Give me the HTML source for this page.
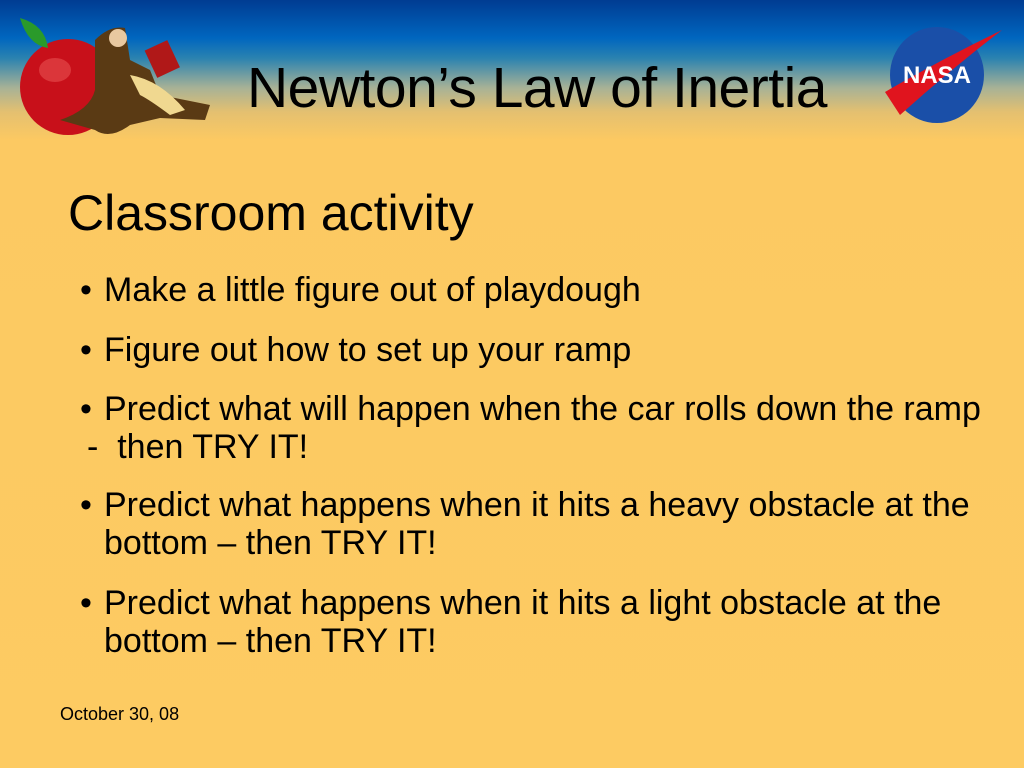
<!DOCTYPE html>
<html><head><meta charset="utf-8"><style>
body{margin:0;width:1024px;height:768px;overflow:hidden;font-family:"Liberation Sans",Arial,sans-serif;}
#slide{position:relative;width:1024px;height:768px;background:linear-gradient(180deg,#003c92 0px,#0066bf 38px,#2a82b0 58px,#a8b296 88px,#e4c070 112px,#fcc962 140px,#fdcb62 768px);}
.t{position:absolute;white-space:nowrap;color:#000;}
.b{position:absolute;left:0;}
.bt{position:absolute;left:24px;white-space:nowrap;}
</style></head><body>
<div id="slide">
<svg style="position:absolute;left:0;top:0" width="240" height="145">
<ellipse cx="68" cy="87" rx="48" ry="48" fill="#c8101a"/>
<ellipse cx="55" cy="70" rx="16" ry="12" fill="#e85050" opacity="0.6"/>
<path d="M20 18 Q45 25 48 48 Q28 45 20 18Z" fill="#2a9a2a"/>
<path d="M95 40 Q110 25 125 28 L130 60 L150 70 L160 95 L210 105 L205 120 L160 118 L130 125 Q110 140 95 130 L60 120 Q90 110 95 90Z" fill="#5a3a14"/>
<path d="M130 75 Q160 80 185 110 L170 115 Q150 100 140 95Z" fill="#f0d890"/>
<rect x="150" y="45" width="25" height="30" fill="#b01818" transform="rotate(-25 160 60)"/>
<circle cx="118" cy="38" r="9" fill="#e8c8a0"/>
</svg>
<div class="t" style="left:247px;top:55px;font-size:57px;letter-spacing:-0.5px">Newton’s Law of Inertia</div>
<svg style="position:absolute;left:880px;top:20px" width="130" height="110">
<ellipse cx="57" cy="55" rx="47" ry="48" fill="#1a4fa8"/>
<path d="M5 72 Q60 40 122 10 Q70 50 20 95Z" fill="#e0141e"/>
<text x="57" y="63" text-anchor="middle" font-family="Liberation Sans" font-weight="bold" font-size="24" fill="#fff">NASA</text>
</svg>
<div class="t" style="left:68px;top:184px;font-size:50px">Classroom activity</div>
<div style="position:absolute;left:80px;top:0;font-size:34px;line-height:38px">
<div class="t" style="top:271px"><span class="b">•</span><span class="bt">Make a little figure out of playdough</span></div>
<div class="t" style="top:331px"><span class="b">•</span><span class="bt">Figure out how to set up your ramp</span></div>
<div class="t" style="top:390px"><span class="b">•</span><span class="bt">Predict what will happen when the car rolls down the ramp</span><span class="bt" style="top:38px;left:7px">-&nbsp;&nbsp;then TRY IT!</span></div>
<div class="t" style="top:486px"><span class="b">•</span><span class="bt">Predict what happens when it hits a heavy obstacle at the<br>bottom – then TRY IT!</span></div>
<div class="t" style="top:584px"><span class="b">•</span><span class="bt">Predict what happens when it hits a light obstacle at the<br>bottom – then TRY IT!</span></div>
</div>
<div class="t" style="left:60px;top:704px;font-size:18px">October 30, 08</div>
</div>
</body></html>
